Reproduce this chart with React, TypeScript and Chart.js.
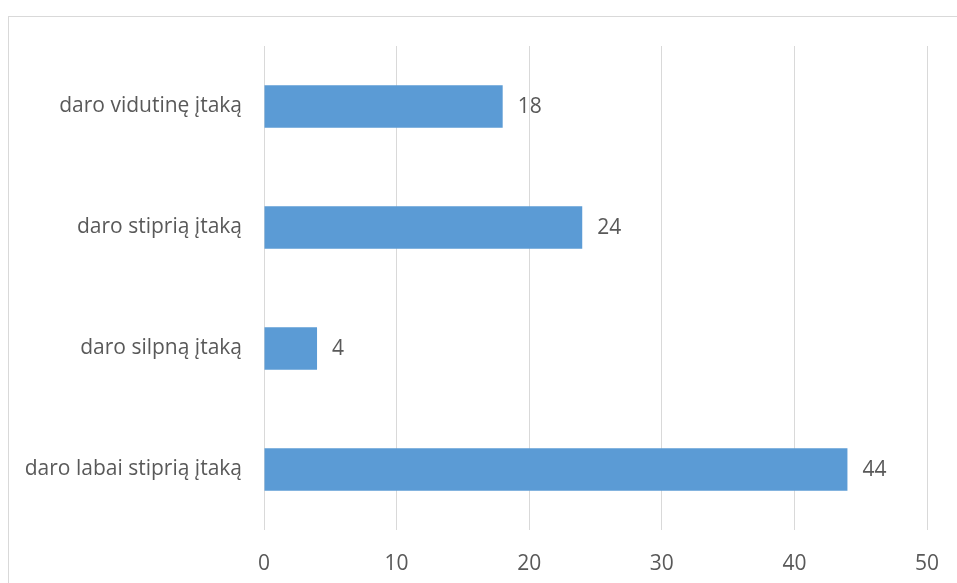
import React, { useEffect, useRef } from "react";
import { Chart, registerables } from "chart.js";

Chart.register(...registerables);

// Answer categories, listed top to bottom
const categories = [
  "daro vidutinę įtaką",
  "daro stiprią įtaką",
  "daro silpną įtaką",
  "daro labai stiprią įtaką",
];
const counts = [18, 24, 4, 44];
const xTicks = [0, 10, 20, 30, 40, 50];

const FONT = "'Open Sans', 'DejaVu Sans', sans-serif";
const TEXT = "#595959";

// Writes each bar's value just past its end
const valueLabels = {
  id: "valueLabels",
  afterDatasetsDraw(chart: any) {
    const { ctx } = chart;
    const meta = chart.getDatasetMeta(0);
    ctx.save();
    ctx.font = `21px ${FONT}`;
    ctx.fillStyle = TEXT;
    ctx.textAlign = "left";
    ctx.textBaseline = "middle";
    meta.data.forEach((bar: any, i: number) => {
      ctx.fillText(String(counts[i]), bar.x + 15, bar.y + 1);
    });
    ctx.restore();
  },
};

export default function App() {
  const canvasRef = useRef<HTMLCanvasElement | null>(null);

  useEffect(() => {
    if (!canvasRef.current) return;
    const chart = new Chart(canvasRef.current, {
      type: "bar",
      data: {
        labels: categories,
        datasets: [
          {
            data: counts,
            backgroundColor: "#5B9BD5",
            borderWidth: 0,
            categoryPercentage: 0.7,
            barPercentage: 0.5,
          },
        ],
      },
      options: {
        indexAxis: "y",
        animation: false,
        responsive: false,
        layout: { padding: { top: 46, right: 30, left: 0, bottom: 0 } },
        plugins: {
          legend: { display: false },
          tooltip: { enabled: false },
        },
        scales: {
          x: {
            min: 0,
            max: 50,
            afterBuildTicks: (scale: any) => {
              scale.ticks = xTicks.map((v) => ({ value: v }));
            },
            afterFit: (scale: any) => {
              scale.height = 53;
              scale.paddingLeft = 0;
              scale.paddingRight = 0;
            },
            grid: { color: "#D9D9D9", lineWidth: 1, drawTicks: false },
            border: { display: false },
            ticks: {
              padding: 21,
              color: TEXT,
              font: { family: FONT, size: 21 },
            },
          },
          y: {
            afterFit: (scale: any) => {
              scale.width = 264;
            },
            grid: { display: false, drawTicks: false },
            border: { display: false },
            ticks: {
              padding: 22,
              color: TEXT,
              font: { family: FONT, size: 21 },
            },
          },
        },
      },
      plugins: [valueLabels],
    });
    return () => chart.destroy();
  }, []);

  return (
    <div style={{ position: "fixed", left: 0, top: 0, width: 957, height: 583, overflow: "hidden", background: "#fff" }}>
      <div
        style={{
          position: "absolute",
          left: 8,
          top: 16,
          width: 1000,
          height: 1000,
          border: "1px solid #D9D9D9",
        }}
      />
      <canvas
        ref={canvasRef}
        width={957}
        height={583}
        style={{ position: "absolute", left: 0, top: 0, width: 957, height: 583 }}
      />
    </div>
  );
}
